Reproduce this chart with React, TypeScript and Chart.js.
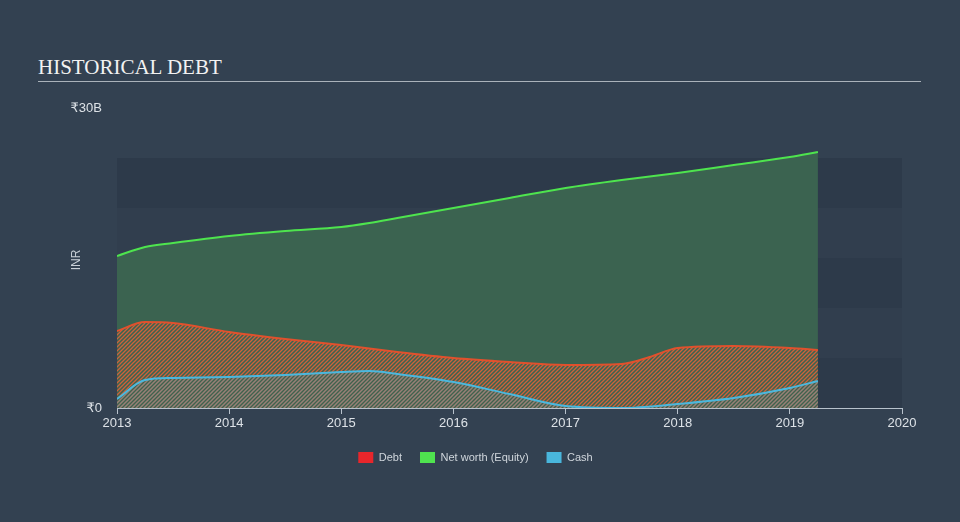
import React, { useEffect, useRef } from "react";
import { Chart, registerables } from "chart.js";

Chart.register(...registerables);

const TITLE = "HISTORICAL DEBT";
const X_TICKS = [2013, 2014, 2015, 2016, 2017, 2018, 2019, 2020];

const netWorthDates = [2013.0, 2013.25, 2013.5, 2014.0, 2014.5, 2015.0, 2015.25, 2015.5, 2016.0, 2016.5, 2017.0, 2017.5, 2018.0, 2018.5, 2019.0, 2019.25];
const netWorthValues = [15.2, 16.1, 16.5, 17.2, 17.7, 18.1, 18.5, 19.0, 20.0, 21.0, 22.0, 22.8, 23.5, 24.3, 25.1, 25.6];

const debtDates = [2013.0, 2013.25, 2013.5, 2014.0, 2014.5, 2015.0, 2015.5, 2016.0, 2016.5, 2017.0, 2017.5, 2017.75, 2018.0, 2018.5, 2019.0, 2019.25];
const debtValues = [7.7, 8.6, 8.5, 7.6, 6.9, 6.3, 5.6, 5.0, 4.6, 4.3, 4.4, 5.1, 6.0, 6.2, 6.0, 5.8];

const cashDates = [2013.0, 2013.25, 2013.5, 2014.0, 2014.5, 2015.0, 2015.25, 2015.5, 2016.0, 2016.5, 2017.0, 2017.5, 2018.0, 2018.5, 2019.0, 2019.25];
const cashValues = [0.9, 2.8, 3.0, 3.1, 3.3, 3.6, 3.7, 3.4, 2.6, 1.4, 0.2, 0.0, 0.4, 1.0, 2.0, 2.7];

const BG = "#334151";
const FONT = "'Liberation Sans', 'DejaVu Sans', Arial, sans-serif";

function hatch(color: string, width: number): CanvasPattern | string {
  const s = 4;
  const c = document.createElement("canvas");
  c.width = s;
  c.height = s;
  const ctx = c.getContext("2d");
  if (!ctx) return color;
  ctx.strokeStyle = color;
  ctx.lineWidth = width;
  ctx.beginPath();
  ctx.moveTo(-1, s + 1);
  ctx.lineTo(s + 1, -1);
  ctx.moveTo(-1, 1);
  ctx.lineTo(1, -1);
  ctx.moveTo(s - 1, s + 1);
  ctx.lineTo(s + 1, s - 1);
  ctx.stroke();
  const p = ctx.createPattern(c, "repeat");
  return p || color;
}

const toPoints = (xs: number[], ys: number[]) => xs.map((x, i) => ({ x, y: ys[i] }));

const bandsPlugin = {
  id: "bands",
  beforeDatasetsDraw(chart: any) {
    const { ctx, chartArea, scales } = chart;
    const y = scales.y;
    const bands = [0, 5, 10, 15, 20];
    ctx.save();
    bands.forEach((b, i) => {
      const top = y.getPixelForValue(b + 5);
      const bot = y.getPixelForValue(b);
      ctx.fillStyle = i % 2 === 0 ? "#2d3a4a" : "#313e4e";
      ctx.fillRect(chartArea.left, top, chartArea.right - chartArea.left, bot - top);
    });
    ctx.restore();
  },
  afterDraw(chart: any) {
    const { ctx } = chart;
    ctx.save();
    ctx.translate(77, 260);
    ctx.rotate(-Math.PI / 2);
    ctx.fillStyle = "#c9d0d7";
    ctx.font = `12px ${FONT}`;
    ctx.textAlign = "center";
    ctx.textBaseline = "middle";
    ctx.fillText("INR", 0, 0);
    ctx.restore();
  },
};

export default function App() {
  const ref = useRef<HTMLCanvasElement | null>(null);

  useEffect(() => {
    if (!ref.current) return;
    const chart = new Chart(ref.current, {
      type: "line",
      data: {
        datasets: [
          {
            label: "Debt",
            data: toPoints(debtDates, debtValues),
            borderColor: "#e0512d",
            borderWidth: 2,
            backgroundColor: hatch("rgba(222,98,56,0.9)", 1.3),
            fill: "origin",
            pointRadius: 0,
            cubicInterpolationMode: "monotone",
            order: 2,
          },
          {
            label: "Net worth (Equity)",
            data: toPoints(netWorthDates, netWorthValues),
            borderColor: "#4ee44e",
            borderWidth: 2,
            backgroundColor: "#3b6350",
            fill: "origin",
            pointRadius: 0,
            cubicInterpolationMode: "monotone",
            order: 3,
          },
          {
            label: "Cash",
            data: toPoints(cashDates, cashValues),
            borderColor: "#4bb8de",
            borderWidth: 2,
            backgroundColor: hatch("rgba(80,170,200,0.45)", 1.3),
            fill: "origin",
            pointRadius: 0,
            cubicInterpolationMode: "monotone",
            order: 1,
          },
        ],
      },
      options: {
        animation: false,
        responsive: false,
        maintainAspectRatio: false,
        layout: { padding: { top: 108, right: 58, bottom: 49, left: 49 } },
        scales: {
          x: {
            type: "linear",
            min: 2013,
            max: 2020,
            afterBuildTicks: (s: any) => {
              s.ticks = X_TICKS.map((v) => ({ value: v }));
            },
            afterFit: (s: any) => {
              s.height = 26;
            },
            ticks: {
              color: "#dde2e7",
              font: { size: 13, family: FONT },
              padding: 2,
              callback: (v: any) => String(v),
              maxRotation: 0,
            },
            grid: {
              drawOnChartArea: false,
              drawTicks: true,
              tickLength: 6,
              color: "#b8c2cc",
            },
            border: { display: true, color: "#b8c2cc", width: 1 },
          },
          y: {
            min: 0,
            max: 30,
            afterBuildTicks: (s: any) => {
              s.ticks = [{ value: 0 }, { value: 30 }];
            },
            afterFit: (s: any) => {
              s.width = 68;
            },
            ticks: {
              color: "#dde2e7",
              font: { size: 13, family: FONT },
              padding: 7,
              callback: (v: any) => (v === 0 ? "₹0" : "₹30B"),
            },
            grid: { display: false },
            border: { display: false },
          },
        },
        plugins: {
          legend: {
            position: "bottom",
            labels: {
              color: "#d0d6dc",
              font: { size: 11, family: FONT },
              boxWidth: 15,
              boxHeight: 11,
              padding: 18,
              generateLabels: () => [
                { text: "Debt", fillStyle: "#e8262b", strokeStyle: "#e8262b", lineWidth: 0, fontColor: "#d0d6dc", datasetIndex: 0 },
                { text: "Net worth (Equity)", fillStyle: "#4fe34f", strokeStyle: "#4fe34f", lineWidth: 0, fontColor: "#d0d6dc", datasetIndex: 1 },
                { text: "Cash", fillStyle: "#49b6dc", strokeStyle: "#49b6dc", lineWidth: 0, fontColor: "#d0d6dc", datasetIndex: 2 },
              ],
            },
          },
          tooltip: { enabled: false },
        },
      } as any,
      plugins: [bandsPlugin],
    });
    return () => chart.destroy();
  }, []);

  return (
    <div style={{ position: "fixed", left: 0, top: 0, width: 960, height: 522, background: BG, overflow: "hidden" }}>
      <div
        style={{
          position: "absolute",
          left: 38,
          top: 54,
          fontFamily: "'Liberation Serif', 'Times New Roman', serif",
          fontSize: 21,
          color: "#f2f2f2",
          lineHeight: "26px",
          whiteSpace: "nowrap",
        }}
      >
        {TITLE}
      </div>
      <div style={{ position: "absolute", left: 38, top: 81, width: 883, height: 1, background: "#aab2ba" }} />
      <canvas ref={ref} width={960} height={522} style={{ position: "absolute", left: 0, top: 0, width: 960, height: 522 }} />
    </div>
  );
}
